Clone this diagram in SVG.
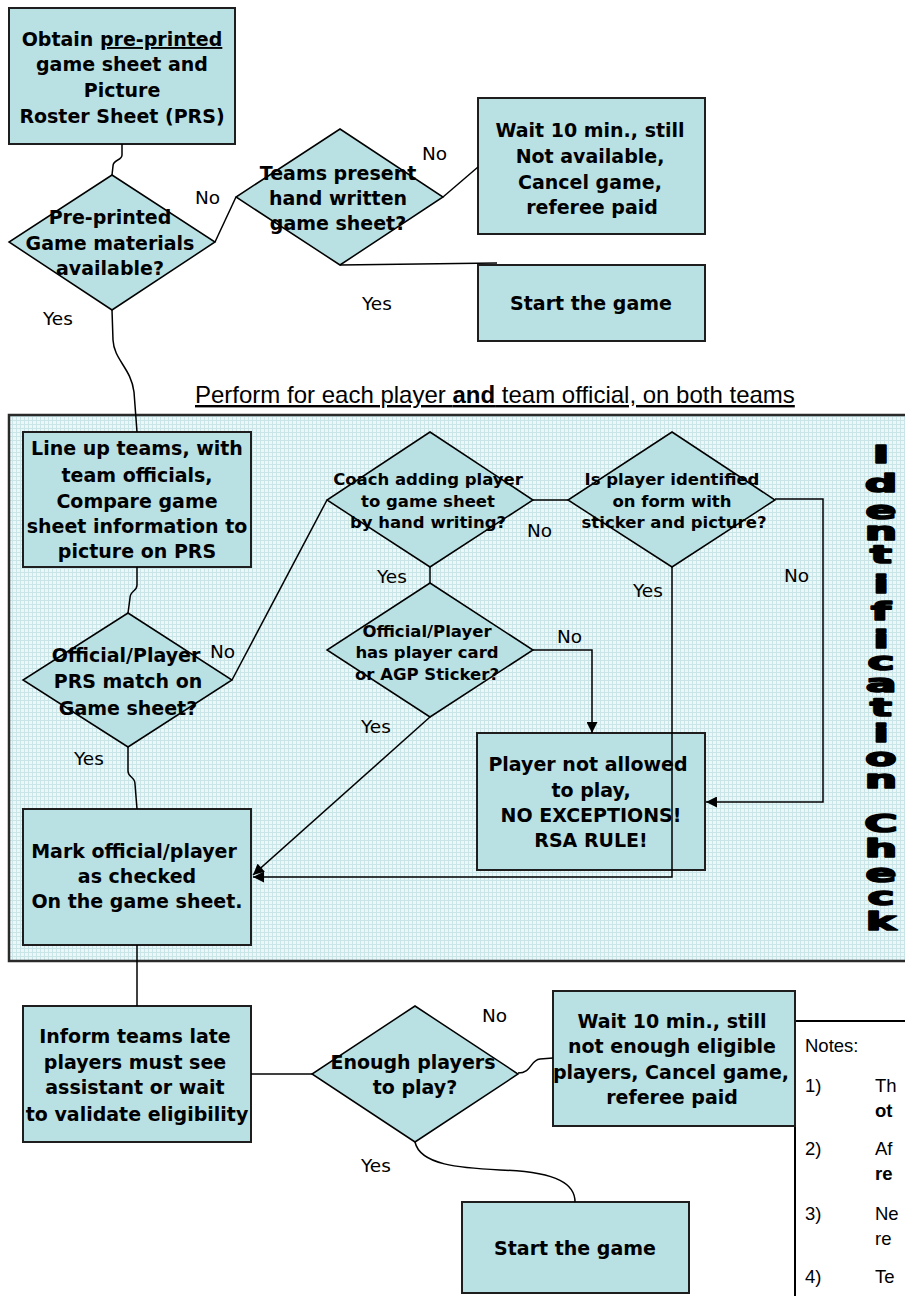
<svg xmlns="http://www.w3.org/2000/svg" width="905" height="1296" viewBox="0 0 905 1296">
<style>
.box{fill:#b9e0e3;stroke:#1e1e1e;stroke-width:2}
.dia{fill:#b9e0e3;stroke:#000;stroke-width:1.5}
.t{font-family:"DejaVu Sans",Verdana,sans-serif;font-weight:bold;font-size:19px;text-anchor:middle;fill:#000}
.ts{font-size:16.5px}
.lbl{font-family:"DejaVu Sans",Verdana,sans-serif;font-size:18.5px;fill:#000}
.ar{font-family:"Liberation Sans",Arial,sans-serif;fill:#000}
.cn path{fill:none;stroke:#000;stroke-width:1.5}
.idc{font-family:"DejaVu Sans",Roboto,sans-serif;font-weight:bold;font-size:24px;text-anchor:middle;fill:#000;stroke:#000;stroke-width:1.6;stroke-linejoin:round}
</style>
<defs>
<pattern id="grid" width="4" height="4" patternUnits="userSpaceOnUse">
<rect width="4" height="4" fill="#ecf7f8"/>
<path d="M0,0.5H4M0.5,0V4" stroke="#c9e5e8" stroke-width="1"/>
</pattern>
<marker id="arr" viewBox="0 0 12 12" refX="12" refY="6" markerWidth="12" markerHeight="11" markerUnits="userSpaceOnUse" orient="auto">
<path d="M0,0L12,6L0,12z" fill="#000"/>
</marker>
</defs>
<rect width="905" height="1296" fill="#fff"/>

<g id="frame">
<rect x="9" y="415" width="910" height="546" fill="url(#grid)" stroke="#2a2a2a" stroke-width="2.5"/>
<text class="ar" x="195" y="403" font-size="24" text-decoration="underline">Perform for each player <tspan font-weight="bold">and</tspan> team official, on both teams</text>
<text class="idc" transform="translate(881,0) scale(1.9,1)"><tspan x="0" y="463">I</tspan><tspan x="0" y="492">d</tspan><tspan x="0" y="519">e</tspan><tspan x="0" y="540">n</tspan><tspan x="0" y="563">t</tspan><tspan x="0" y="593">i</tspan><tspan x="0" y="620">f</tspan><tspan x="0" y="648">i</tspan><tspan x="0" y="670">c</tspan><tspan x="0" y="692">a</tspan><tspan x="0" y="716">t</tspan><tspan x="0" y="742">i</tspan><tspan x="0" y="766">o</tspan><tspan x="0" y="788">n</tspan><tspan x="0" y="832">C</tspan><tspan x="0" y="857">h</tspan><tspan x="0" y="882">e</tspan><tspan x="0" y="905">c</tspan><tspan x="0" y="930">k</tspan></text>
</g>

<g id="notes">
<path d="M795,1296V1021H910" fill="#fff" stroke="#000" stroke-width="2"/>
<g class="ar" font-size="18.5">
<text x="805" y="1052">Notes:</text>
<text x="805" y="1092">1)</text><text x="875" y="1092">Th</text>
<text x="875" y="1117" font-weight="bold">ot</text>
<text x="805" y="1155">2)</text><text x="875" y="1155">Af</text>
<text x="875" y="1180" font-weight="bold">re</text>
<text x="805" y="1220">3)</text><text x="875" y="1220">Ne</text>
<text x="875" y="1245">re</text>
<text x="805" y="1283">4)</text><text x="875" y="1283">Te</text>
</g>
</g>

<g id="n-obtain">
<rect class="box" x="9" y="8" width="226" height="136"/>
<text class="t"><tspan x="122" y="46">Obtain <tspan text-decoration="underline">pre-printed</tspan></tspan><tspan x="122" y="71">game sheet and</tspan><tspan x="122" y="97">Picture</tspan><tspan x="122" y="123">Roster Sheet (PRS)</tspan></text>
</g>
<g id="n-materials">
<polygon class="dia" points="112,175 215,242 112,310 9,242"/>
<text class="t"><tspan x="110" y="224">Pre-printed</tspan><tspan x="110" y="250">Game materials</tspan><tspan x="110" y="275">available?</tspan></text>
</g>
<g id="n-handwritten">
<polygon class="dia" points="340,129 443,197 340,265 236,197"/>
<text class="t"><tspan x="338" y="180">Teams present</tspan><tspan x="338" y="205">hand written</tspan><tspan x="338" y="230">game sheet?</tspan></text>
</g>
<g id="n-wait1">
<rect class="box" x="478" y="98" width="227" height="136"/>
<text class="t"><tspan x="590" y="137">Wait 10 min., still</tspan><tspan x="590" y="163">Not available,</tspan><tspan x="590" y="189">Cancel game,</tspan><tspan x="592" y="214">referee paid</tspan></text>
</g>
<g id="n-start1">
<rect class="box" x="478" y="265" width="227" height="76"/>
<text class="t" x="591" y="310">Start the game</text>
</g>
<g id="n-lineup">
<rect class="box" x="23" y="432" width="228" height="135"/>
<text class="t"><tspan x="137" y="455">Line up teams, with</tspan><tspan x="137" y="482">team officials,</tspan><tspan x="137" y="508">Compare game</tspan><tspan x="137" y="533">sheet information to</tspan><tspan x="137" y="558">picture on PRS</tspan></text>
</g>
<g id="n-prsmatch">
<polygon class="dia" points="128,613 232,680 128,747 23,680"/>
<text class="t"><tspan x="126" y="662">Official/Player</tspan><tspan x="128" y="688">PRS match on</tspan><tspan x="128" y="715">Game sheet?</tspan></text>
</g>
<g id="n-coach">
<polygon class="dia" points="430,432 533,500 430,567 327,500"/>
<text class="t ts"><tspan x="428" y="485">Coach adding player</tspan><tspan x="428" y="507">to game sheet</tspan><tspan x="428" y="528">by hand writing?</tspan></text>
</g>
<g id="n-identified">
<polygon class="dia" points="672,432 775,500 672,567 568,500"/>
<text class="t ts"><tspan x="672" y="485">Is player identified</tspan><tspan x="672" y="507">on form with</tspan><tspan x="674" y="528">sticker and picture?</tspan></text>
</g>
<g id="n-card">
<polygon class="dia" points="430,583 533,650 430,717 327,650"/>
<text class="t ts"><tspan x="427" y="637">Official/Player</tspan><tspan x="427" y="658">has player card</tspan><tspan x="427" y="680">or AGP Sticker?</tspan></text>
</g>
<g id="n-notallowed">
<rect class="box" x="477" y="733" width="228" height="137"/>
<text class="t"><tspan x="588" y="771">Player not allowed</tspan><tspan x="591" y="797">to play,</tspan><tspan x="591" y="822">NO EXCEPTIONS!</tspan><tspan x="591" y="847">RSA RULE!</tspan></text>
</g>
<g id="n-mark">
<rect class="box" x="23" y="809" width="228" height="136"/>
<text class="t"><tspan x="134" y="858">Mark official/player</tspan><tspan x="137" y="883">as checked</tspan><tspan x="137" y="908">On the game sheet.</tspan></text>
</g>
<g id="n-inform">
<rect class="box" x="23" y="1006" width="228" height="136"/>
<text class="t"><tspan x="135" y="1043">Inform teams late</tspan><tspan x="135" y="1069">players must see</tspan><tspan x="135" y="1094">assistant or wait</tspan><tspan x="137" y="1121">to validate eligibility</tspan></text>
</g>
<g id="n-enough">
<polygon class="dia" points="415,1006 518,1074 415,1142 312,1074"/>
<text class="t"><tspan x="413" y="1069">Enough players</tspan><tspan x="415" y="1094">to play?</tspan></text>
</g>
<g id="n-wait2">
<rect class="box" x="553" y="991" width="242" height="135"/>
<text class="t"><tspan x="672" y="1028">Wait 10 min., still</tspan><tspan x="672" y="1053">not enough eligible</tspan><tspan x="671" y="1079">players, Cancel game,</tspan><tspan x="672" y="1104">referee paid</tspan></text>
</g>
<g id="n-start2">
<rect class="box" x="462" y="1202" width="227" height="91"/>
<text class="t" x="575" y="1255">Start the game</text>
</g>

<g id="connectors" class="cn">
<path d="M122,144L122,155C122,161 113,159 113,166L112,175"/>
<path d="M215,242L236,197"/>
<path d="M443,197L478,167"/>
<path d="M340,265L497,263"/>
<path d="M112,310L113,340C114,360 131,368 134,392L137,432"/>
<path d="M137,567L137,585C137,592 130,590 130,598L128,613"/>
<path d="M232,680L327,500"/>
<path d="M128,747L128,771C128,778 135,776 135,784L137,809"/>
<path d="M533,500L568,500"/>
<path d="M430,567L430,583"/>
<path d="M775,499H823V802H706" marker-end="url(#arr)"/>
<path d="M672,567V877H253" marker-end="url(#arr)"/>
<path d="M533,650H592V733" marker-end="url(#arr)"/>
<path d="M430,717L253,875" marker-end="url(#arr)"/>
<path d="M137,945V1006"/>
<path d="M251,1074H312"/>
<path d="M518,1073C532,1073 530,1060 540,1059L553,1058"/>
<path d="M415,1142C420,1165 460,1168 500,1170C560,1172 575,1185 575,1202"/>
</g>

<g id="labels" class="lbl">
<text x="195" y="204">No</text>
<text x="422" y="160">No</text>
<text x="43" y="325">Yes</text>
<text x="362" y="310">Yes</text>
<text x="210" y="658">No</text>
<text x="527" y="537">No</text>
<text x="377" y="583">Yes</text>
<text x="633" y="597">Yes</text>
<text x="784" y="582">No</text>
<text x="557" y="643">No</text>
<text x="361" y="733">Yes</text>
<text x="74" y="765">Yes</text>
<text x="482" y="1022">No</text>
<text x="361" y="1172">Yes</text>
</g>
</svg>
